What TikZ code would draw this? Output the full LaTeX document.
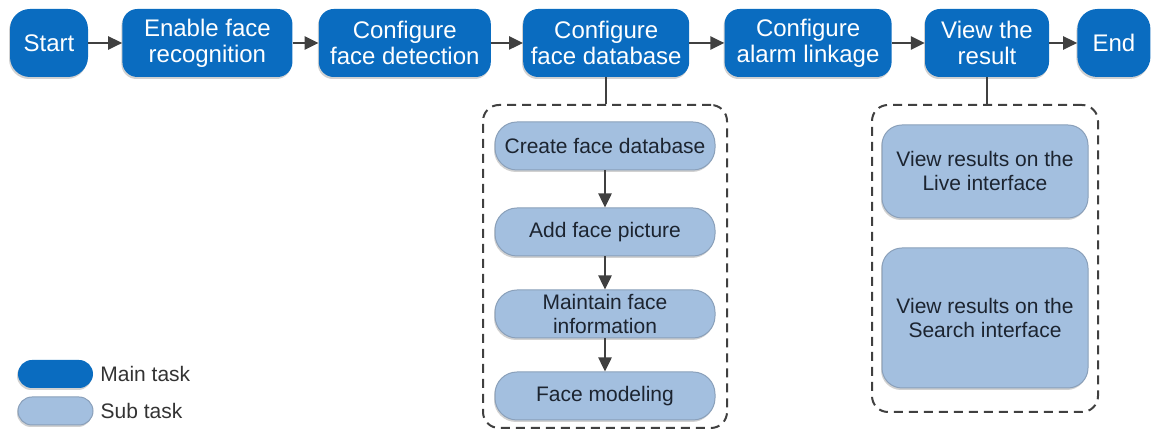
\documentclass[tikz,border=0pt]{standalone}
\usepackage{fontspec}
\setmainfont{Liberation Sans}
\usetikzlibrary{arrows.meta,positioning,shadows}
\definecolor{taskblue}{HTML}{0A6CC0}
\definecolor{subblue}{HTML}{A3BFDF}
\definecolor{subedge}{HTML}{8AA0BA}
\definecolor{linkgray}{HTML}{404040}
\definecolor{subtext}{HTML}{1C2430}
\tikzset{
  softshadow/.style={drop shadow={shadow xshift=-1pt, shadow yshift=-2pt, opacity=0.18, fill=black}},
  maintask/.style={rectangle, rounded corners=15pt, fill=taskblue, text=white, align=center, minimum height=68pt, inner sep=0pt, softshadow, font=\fontsize{24}{26}\selectfont},
  subtask/.style={rectangle, rounded corners=22pt, fill=subblue, draw=subedge, line width=1pt, text=subtext, align=center, minimum width=220pt, minimum height=48pt, inner sep=0pt, softshadow, font=\fontsize{21}{24}\selectfont},
  resultbox/.style={subtask, rounded corners=20pt, minimum width=206pt},
  groupbox/.style={rectangle, rounded corners=16pt, draw=linkgray, line width=2pt, dash pattern=on 9pt off 6pt},
  legendkey/.style={rectangle, rounded corners=14pt, minimum width=75pt, minimum height=28pt, inner sep=0pt, softshadow},
  legendtext/.style={anchor=west, text=black!80, inner sep=0pt, font=\fontsize{21}{24}\selectfont},
  flow/.style={linkgray, line width=2.5pt, -{Triangle[length=14pt,width=13pt]}},
  link/.style={linkgray, line width=2pt},
}

\begin{document}
\begin{tikzpicture}[x=1pt,y=1pt]
  \useasboundingbox (0,0) rectangle (1154,430);
  % main flow
  \node[maintask,rounded corners=20pt,minimum width=78pt] (start) at (49,387) {Start};
  \node[maintask,minimum width=170pt,right=34pt of start] (enable) {Enable face\\recognition};
  \node[maintask,minimum width=172pt,right=26pt of enable] (detect) {Configure\\face detection};
  \node[maintask,minimum width=166pt,right=32pt of detect] (dbase) {Configure\\face database};
  \node[maintask,minimum width=167pt,right=35pt of dbase] (alarm) {Configure\\alarm linkage};
  \node[maintask,minimum width=124pt,right=33pt of alarm] (view) {View the\\result};
  \node[maintask,rounded corners=20pt,minimum width=73pt,right=28pt of view] (finish) {End};
  \draw[flow] (start) -- (enable);
  \draw[flow] (enable) -- (detect);
  \draw[flow] (detect) -- (dbase);
  \draw[flow] (dbase) -- (alarm);
  \draw[flow] (alarm) -- (view);
  \draw[flow] (view) -- (finish);
  % face database sub tasks
  \node[groupbox,minimum width=244pt,minimum height=323pt] (grpdb) at (605,163.5) {};
  \node[subtask] (create) at (605,284) {Create face database};
  \node[subtask,below=37pt of create] (addpic) {Add face picture};
  \node[subtask,below=33pt of addpic] (maint) {Maintain face\\information};
  \node[subtask,below=33pt of maint] (model) {Face modeling};
  \draw[link] (dbase.south) -- (dbase.south |- grpdb.north);
  \draw[flow] (create) -- (addpic);
  \draw[flow] (addpic) -- (maint);
  \draw[flow] (maint) -- (model);
  % result sub tasks
  \node[groupbox,minimum width=226pt,minimum height=307pt] (grpview) at (985,171.5) {};
  \node[resultbox,minimum height=93pt] (live) at (985,258.5) {View results on the\\Live interface};
  \node[resultbox,minimum height=140pt,below=29pt of live] (search) {View results on the\\Search interface};
  \draw[link] (view.south) -- (view.south |- grpview.north);
  % legend
  \node[legendkey,fill=taskblue] (keymain) at (55.5,56) {};
  \node[legendkey,fill=subblue,draw=subedge,line width=1pt] (keysub) at (55.5,19) {};
  \node[legendtext,right=7pt of keymain] (txtmain) {Main task};
  \node[legendtext,right=7pt of keysub] (txtsub) {Sub task};
\end{tikzpicture}
\end{document}
